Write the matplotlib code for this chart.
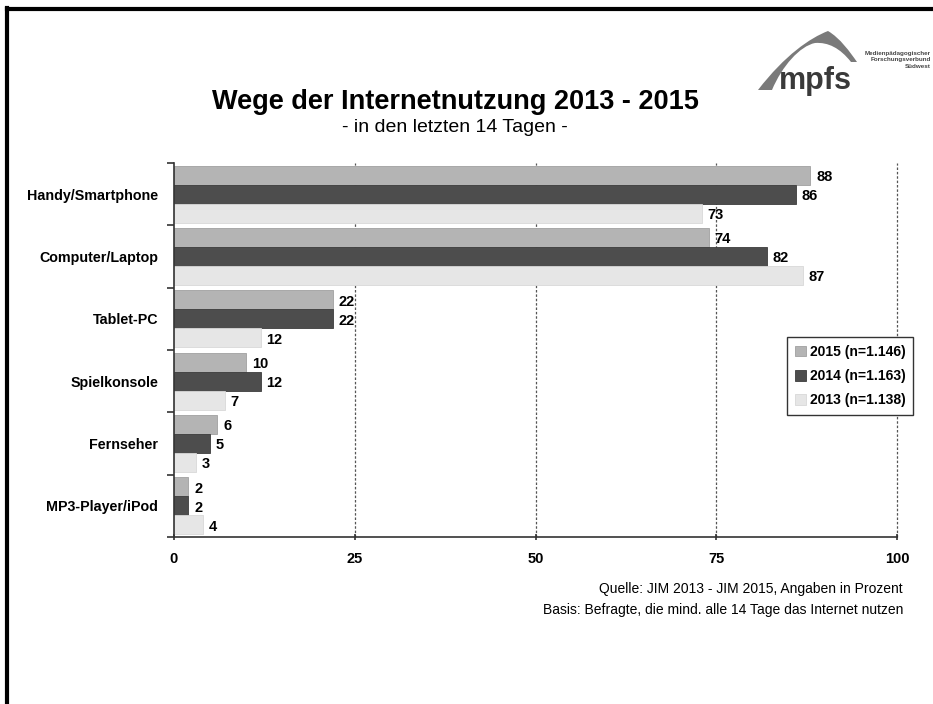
import matplotlib
matplotlib.use("Agg")
import matplotlib.pyplot as plt
import numpy as np
from matplotlib.patches import PathPatch
from matplotlib.path import Path
from matplotlib.lines import Line2D

plt.rcParams['font.family'] = ['Liberation Sans', 'DejaVu Sans']

categories = ["Handy/Smartphone", "Computer/Laptop", "Tablet-PC", "Spielkonsole", "Fernseher", "MP3-Player/iPod"]
series_names = ["2015 (n=1.146)", "2014 (n=1.163)", "2013 (n=1.138)"]
v2015 = [88, 74, 22, 10, 6, 2]
v2014 = [86, 82, 22, 12, 5, 2]
v2013 = [73, 87, 12, 7, 3, 4]
colors = ["#b4b4b4", "#4d4d4d", "#e6e6e6"]
edges = ["#a0a0a0", "#3c3c3c", "#d8d8d8"]
xticks = [0, 25, 50, 75, 100]

fig = plt.figure(figsize=(9.33, 7.04), dpi=100)
ax = fig.add_axes([174/933, 1-537/704, (897-174)/933, (537-163)/704])

y = np.arange(len(categories))
h = 0.305
for k, (vals, col, ec) in enumerate(zip([v2015, v2014, v2013], colors, edges)):
    pos = y + (k - 1) * h
    ax.barh(pos, vals, height=h, color=col, edgecolor=ec, linewidth=0.6, label=series_names[k], zorder=2)
    for p, v in zip(pos, vals):
        ax.text(v + 0.8, p + 0.03, str(v), va='center', ha='left', fontsize=10.5, fontweight='bold', zorder=3)

ax.set_ylim(len(categories) - 0.5, -0.5)
ax.set_xlim(0, 100)
ax.set_yticks(y)
ax.set_yticklabels(categories, fontsize=10.3, fontweight='bold')
ax.tick_params(axis='y', length=0, pad=11.5)
ax.set_yticks(np.arange(-0.5, len(categories), 1), minor=True)
ax.tick_params(axis='y', which='minor', length=5, width=1.2, color='#333333')
ax.set_xticks(xticks)
ax.set_xticklabels([str(t) for t in xticks], fontsize=10.5, fontweight='bold')
ax.tick_params(axis='x', length=5, width=1.2, color='#333333', pad=8, direction='inout')
for t in xticks[1:]:
    ax.axvline(t, color='#555555', linestyle=(0, (2, 1.5)), linewidth=0.9, zorder=1, clip_on=False)
for s in ['top', 'right']:
    ax.spines[s].set_visible(False)
for s in ['left', 'bottom']:
    ax.spines[s].set_color('#333333')
    ax.spines[s].set_linewidth(1.2)

leg = ax.legend(loc='upper left', bbox_to_anchor=((787-174)/(897-174), 1-(337-163)/(537-163)),
                frameon=True, fancybox=False, edgecolor='#333333', handlelength=0.8, handleheight=0.8,
                handletextpad=0.3, labelspacing=0.75, borderpad=0.55, borderaxespad=0,
                prop={'weight': 'bold', 'size': 10.0})
leg.get_frame().set_linewidth(1.0)
leg.get_frame().set_alpha(1)
leg.set_zorder(5)

fig.text(455/933, 1-102/704, "Wege der Internetnutzung 2013 - 2015", ha='center', va='center',
         fontsize=19.5, fontweight='bold')
fig.text(455/933, 1-128/704, "- in den letzten 14 Tagen -", ha='center', va='center', fontsize=14)

fig.text(903/933, 1-589/704, "Quelle: JIM 2013 - JIM 2015, Angaben in Prozent", ha='right', va='center', fontsize=10)
fig.text(903/933, 1-610/704, "Basis: Befragte, die mind. alle 14 Tage das Internet nutzen", ha='right', va='center', fontsize=10)

# border lines (left and top)
fig.add_artist(Line2D([7/933, 7/933], [0, 1-8/704], color='black', linewidth=3, transform=fig.transFigure))
fig.add_artist(Line2D([7/933, 1], [1-9/704, 1-9/704], color='black', linewidth=3, transform=fig.transFigure))

# logo swoosh
def fp(px, py):
    return (px/933, 1-py/704)
verts = [fp(758, 90),
         fp(785, 55), fp(810, 38), fp(828, 31),
         fp(840, 38), fp(850, 52), fp(857, 62),
         fp(851, 62),
         fp(840, 48), fp(828, 42), fp(815, 43),
         fp(800, 46), fp(782, 66), fp(772, 90),
         fp(758, 90)]
codes = [Path.MOVETO,
         Path.CURVE4, Path.CURVE4, Path.CURVE4,
         Path.CURVE4, Path.CURVE4, Path.CURVE4,
         Path.LINETO,
         Path.CURVE4, Path.CURVE4, Path.CURVE4,
         Path.CURVE4, Path.CURVE4, Path.CURVE4,
         Path.CLOSEPOLY]
fig.add_artist(PathPatch(Path(verts, codes), transform=fig.transFigure, facecolor='#7a7a7a', edgecolor='none'))
fig.text(815/933, 1-81/704, "mpfs", ha='center', va='center', fontsize=22, fontweight='bold', color='#3a3a3a')
fig.text(898/933, 1-60/704, "Medienpädagogischer\nForschungsverbund\nSüdwest", ha='center', va='center',
         fontsize=4.5, fontweight='bold', color='#444444', linespacing=1.4, multialignment='right')

fig.savefig("out.png", dpi=100)
